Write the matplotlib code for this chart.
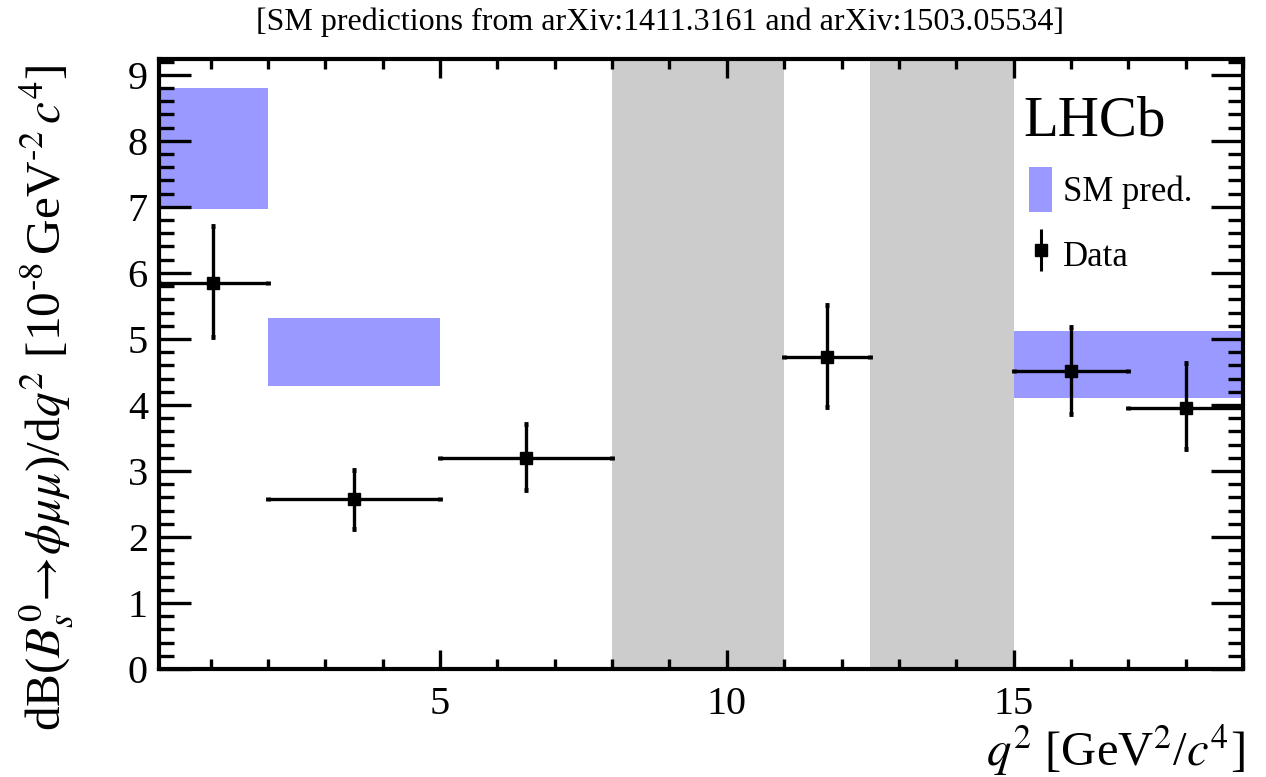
import matplotlib
matplotlib.use("Agg")
import matplotlib.pyplot as plt
from matplotlib.patches import Patch
from matplotlib.lines import Line2D
from matplotlib.ticker import MultipleLocator

plt.rcParams["font.family"] = ["Liberation Serif", "DejaVu Serif"]
plt.rcParams["mathtext.fontset"] = "stix"

# SM prediction bins
sm_lo = [0.1, 2.0, 15.0]
sm_hi = [2.0, 5.0, 19.0]
sm_min = [6.97, 4.29, 4.10]
sm_max = [8.80, 5.32, 5.12]

# measured bins
bin_lo = [0.1, 2.0, 5.0, 11.0, 15.0, 17.0]
bin_hi = [2.0, 5.0, 8.0, 12.5, 17.0, 19.0]
data_y = [5.85, 2.58, 3.20, 4.73, 4.52, 3.95]
err_up = [0.86, 0.44, 0.51, 0.79, 0.66, 0.69]
err_dn = [0.82, 0.46, 0.49, 0.76, 0.66, 0.62]

# vetoed charmonium regions
veto_lo = [8.0, 12.5]
veto_hi = [11.0, 15.0]

SM_COL = "#9999ff"
VETO_COL = "#cccccc"

fig = plt.figure(figsize=(12.66, 7.77), dpi=100)
ax = fig.add_axes([159 / 1266, 1 - 669 / 777, (1243 - 159) / 1266, (669 - 59) / 777])
ax.set_axisbelow(False)

for lo, hi in zip(veto_lo, veto_hi):
    ax.axvspan(lo, hi, color=VETO_COL, lw=0, zorder=0.5)

for lo, hi, a, b in zip(sm_lo, sm_hi, sm_min, sm_max):
    ax.bar(lo, b - a, width=hi - lo, bottom=a, align="edge", color=SM_COL, lw=0, zorder=0.6)

xc = [(a + b) / 2 for a, b in zip(bin_lo, bin_hi)]
xe = [(b - a) / 2 for a, b in zip(bin_lo, bin_hi)]
ax.errorbar(xc, data_y, xerr=xe, yerr=[err_dn, err_up], fmt="s", color="black",
            ms=8, elinewidth=2.4, capsize=1.6, capthick=3.5, zorder=3)

ax.set_xlim(0.1, 19.0)
ax.set_ylim(0, 9.24)
ax.xaxis.set_major_locator(MultipleLocator(5))
ax.xaxis.set_minor_locator(MultipleLocator(1))
ax.yaxis.set_major_locator(MultipleLocator(1))
ax.yaxis.set_minor_locator(MultipleLocator(0.2))
ax.tick_params(which="both", direction="in", top=True, right=True, width=2.4, labelsize=29)
ax.tick_params(axis="y", which="major", length=23, pad=8)
ax.tick_params(axis="y", which="minor", length=11)
ax.tick_params(axis="x", which="major", length=14, pad=12)
ax.tick_params(axis="x", which="minor", length=7)
for sp in ax.spines.values():
    sp.set_linewidth(3)

fig.text(47 / 1266, 1 - 398 / 777,
         r"dB($B_s^{\mathit{0}}\!\rightarrow\!\phi\mu\mu$)/d$q^2$ [10$^{\text{-}8}$$\,$GeV$^{\text{-}2}$$\,c^4$]",
         rotation=90, ha="center", va="center", fontsize=35.5)
fig.text(1245 / 1266, 1 - 750 / 777, r"$q^2$ [GeV$^2$/$c^4$]", ha="right", va="center", fontsize=35)
fig.text(660 / 1266, 1 - 22 / 777,
         "[SM predictions from arXiv:1411.3161 and arXiv:1503.05534]",
         ha="center", va="center", fontsize=23)

ax.text(1023 / 1266, 1 - 136 / 777, "LHCb", transform=fig.transFigure, fontsize=41,
        ha="left", va="baseline")

h_sm = Patch(facecolor=SM_COL, edgecolor="none")
h_data = (Line2D([], [], marker="|", ms=30, mew=2.2, color="black", ls="none"),
          Line2D([], [], marker="s", ms=8, color="black", ls="none"))
ax.legend([h_sm, h_data], ["SM pred.", "Data"], loc="upper left",
          bbox_to_anchor=(1012 / 1266, 1 - 150 / 777), bbox_transform=fig.transFigure,
          frameon=False, fontsize=25, handlelength=0.66, handleheight=1.6,
          handletextpad=0.3, labelspacing=0.6, borderpad=0)

fig.savefig("out.png", dpi=100)
